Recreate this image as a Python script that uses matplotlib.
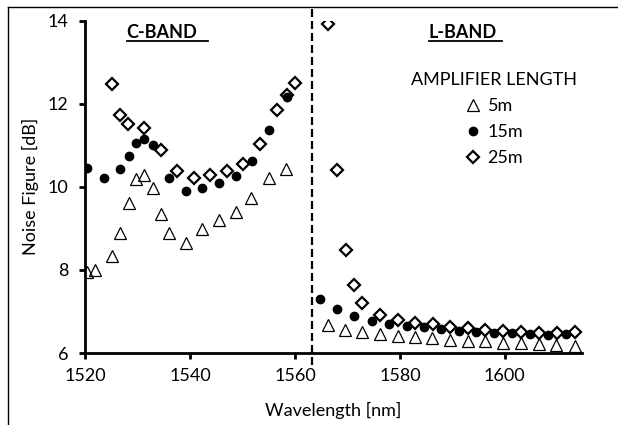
import matplotlib
matplotlib.use('Agg')
import matplotlib.pyplot as plt
from matplotlib.lines import Line2D

# data
wl_5m = [1520.4, 1522.0, 1525.1, 1526.7, 1528.3, 1529.8, 1531.3, 1532.9, 1534.5, 1536.0,
         1539.2, 1542.3, 1545.5, 1548.7, 1551.7, 1555.0, 1558.3,
         1566.3, 1569.6, 1572.8, 1576.2, 1579.6, 1582.9, 1586.2, 1589.5, 1592.9, 1596.2,
         1599.6, 1603.0, 1606.5, 1609.8, 1613.3]
nf_5m = [7.95, 7.99, 8.33, 8.88, 9.61, 10.19, 10.29, 9.97, 9.34, 8.88,
         8.65, 8.98, 9.21, 9.40, 9.72, 10.22, 10.44,
         6.67, 6.55, 6.50, 6.46, 6.42, 6.38, 6.35, 6.31, 6.30, 6.28,
         6.25, 6.23, 6.21, 6.19, 6.17]

wl_15m = [1520.4, 1523.6, 1526.7, 1528.3, 1529.8, 1531.3, 1532.9, 1536.0, 1539.2, 1542.3,
          1545.5, 1548.7, 1551.8, 1555.0, 1558.4,
          1564.8, 1568.0, 1571.2, 1574.6, 1578.0, 1581.3, 1584.6, 1587.9, 1591.3, 1594.6,
          1598.0, 1601.4, 1604.8, 1608.3, 1611.6]
nf_15m = [10.46, 10.22, 10.43, 10.75, 11.05, 11.16, 11.00, 10.22, 9.89, 9.98,
          10.10, 10.27, 10.63, 11.38, 12.17,
          7.30, 7.07, 6.90, 6.78, 6.71, 6.66, 6.62, 6.58, 6.54, 6.50,
          6.47, 6.47, 6.45, 6.43, 6.45]

wl_25m = [1525.1, 1526.7, 1528.2, 1531.3, 1534.4, 1537.6, 1540.8, 1543.9, 1547.1, 1550.2,
          1553.3, 1556.6, 1558.4, 1560.0,
          1566.3, 1568.1, 1569.7, 1571.2, 1572.8, 1576.2, 1579.6, 1582.9, 1586.3, 1589.6,
          1593.0, 1596.3, 1599.7, 1603.1, 1606.5, 1609.9, 1613.4]
nf_25m = [12.48, 11.72, 11.52, 11.42, 10.88, 10.38, 10.22, 10.28, 10.38, 10.54,
          11.02, 11.84, 12.20, 12.50,
          13.92, 10.40, 8.48, 7.63, 7.21, 6.91, 6.79, 6.73, 6.69, 6.63,
          6.59, 6.55, 6.52, 6.51, 6.48, 6.47, 6.51]

band_edge = 1563.2
x_ticks = [1520, 1540, 1560, 1580, 1600]
y_ticks = [6, 8, 10, 12, 14]

plt.rcParams['font.family'] = ['Lato', 'DejaVu Sans']
fs = 13

fig = plt.figure(figsize=(6.18, 4.25), dpi=100)
ax = fig.add_axes([0.1375, 0.1694, 0.8042, 0.7819])

ax.plot(wl_5m, nf_5m, linestyle='none', marker='^', ms=8.5, mfc='none', mec='black',
        mew=0.9, label='5m')
ax.plot(wl_15m, nf_15m, linestyle='none', marker='o', ms=6, mfc='black', mec='black',
        label='15m')
ax.plot(wl_25m, nf_25m, linestyle='none', marker='D', ms=6, mfc='none', mec='black',
        mew=1.6, label='25m')

# band separator, runs a little past the plot area
ax.axvline(band_edge, ymin=-0.036, ymax=1.041, color='black', lw=1.6,
           linestyle=(0, (3.6, 1.8)), clip_on=False)

ax.set_xlim(1520, 1614.7)
ax.set_ylim(6, 14)
ax.set_xticks(x_ticks)
ax.set_yticks(y_ticks)
for s in ['top', 'right']:
    ax.spines[s].set_visible(False)
for s in ['left', 'bottom']:
    ax.spines[s].set_linewidth(2)
ax.tick_params(direction='out', length=4, width=2, labelsize=fs)
ax.tick_params(axis='y', pad=8)
ax.tick_params(axis='x', pad=7)

ax.set_xlabel('Wavelength [nm]', fontsize=fs, labelpad=13)
ax.set_ylabel('Noise Figure [dB]', fontsize=fs, labelpad=6)

ax.text(0.155, 0.963, 'C-BAND', transform=ax.transAxes, ha='center', va='center',
        fontsize=fs, fontweight='bold')
ax.add_line(Line2D([0.0845, 0.2475], [0.939, 0.939], transform=ax.transAxes,
                   color='black', lw=1.3, clip_on=False))
ax.text(0.7606, 0.963, 'L-BAND', transform=ax.transAxes, ha='center', va='center',
        fontsize=fs, fontweight='bold')
ax.add_line(Line2D([0.692, 0.839], [0.9375, 0.9375], transform=ax.transAxes,
                   color='black', lw=1.3, clip_on=False))

ax.legend(title='AMPLIFIER LENGTH', loc='center', bbox_to_anchor=(0.824, 0.704),
          frameon=False, fontsize=fs, title_fontsize=fs, alignment='center',
          handlelength=0.8, handletextpad=0.4, labelspacing=0.57, borderpad=0)

# frame of the original picture (cropped on right and bottom)
fig.add_artist(Line2D([8 / 618, 8 / 618], [0, 1 - 6.5 / 425], transform=fig.transFigure,
                      color='black', lw=1))
fig.add_artist(Line2D([8 / 618, 1], [1 - 6.5 / 425, 1 - 6.5 / 425], transform=fig.transFigure,
                      color='black', lw=1))

fig.savefig('out.png', dpi=100)
